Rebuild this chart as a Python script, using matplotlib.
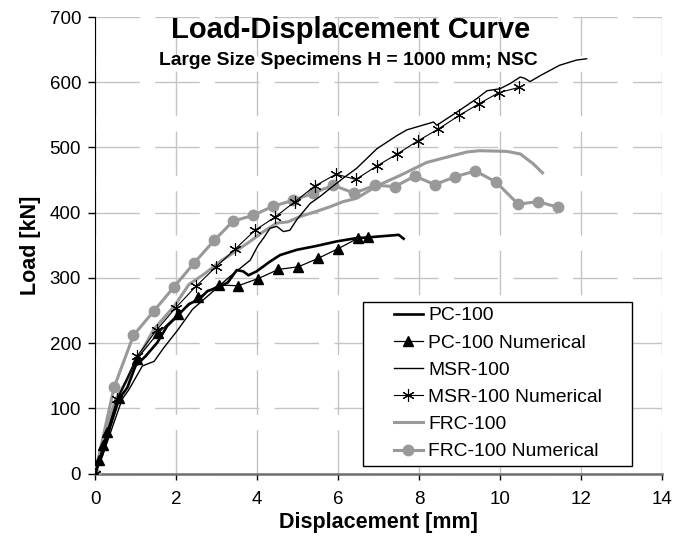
import matplotlib.pyplot as plt
from matplotlib.path import Path

plt.rcParams['font.family'] = ['Liberation Sans', 'DejaVu Sans']

# experimental curves
pc_x = [0, 0.17, 0.38, 0.59, 0.8, 1.0, 1.25, 1.54, 1.78, 2.07, 2.32, 2.57, 2.78, 3.03, 3.28,
        3.5, 3.66, 3.79, 3.99, 4.32, 4.57, 4.98, 5.47, 5.97, 6.46, 6.72, 7.5, 7.62]
pc_y = [0, 27, 73, 114, 132, 165, 180, 201, 226, 244, 260, 267, 280, 285, 293,
        312, 310, 304, 310, 325, 335, 343, 349, 356, 361, 362, 366, 360]

msr_x = [0, 0.2, 0.45, 0.67, 0.84, 1.17, 1.46, 1.70, 2.03, 2.41, 2.78, 3.11, 3.33, 3.83, 4.03,
         4.16, 4.32, 4.49, 4.65, 4.81, 4.98, 5.31, 5.56, 5.8, 6.13, 6.46, 6.96, 7.45, 7.7,
         8.36, 8.44, 8.93, 9.43, 9.68, 10.0, 10.25, 10.5, 10.61, 10.74, 10.99, 11.47, 11.89, 12.14]
msr_y = [0, 30, 75, 114, 129, 165, 172, 193, 219, 252, 272, 290, 302, 327, 350,
         361, 376, 379, 371, 373, 389, 414, 425, 437, 453, 468, 498, 518, 527,
         539, 534, 554, 575, 587, 590, 598, 608, 606, 601, 610, 626, 634, 636]

frc_x = [0, 0.3, 0.51, 0.8, 1.09, 1.45, 1.96, 2.32, 2.7, 3.11, 3.33, 3.83, 4.16, 4.49, 4.77,
         5.06, 5.47, 5.8, 6.13, 6.46, 6.96, 7.53, 8.19, 8.68, 9.18, 9.5, 10.17, 10.5, 10.82, 11.05]
frc_y = [0, 73, 114, 144, 180, 221, 257, 290, 306, 326, 335, 356, 371, 384, 386,
         394, 402, 409, 417, 422, 441, 457, 477, 485, 493, 495, 494, 490, 475, 461]

# numerical curves
pcn_x = [0, 0.11, 0.19, 0.29, 0.58, 1.04, 1.55, 2.05, 2.55, 3.05, 3.54, 4.03, 4.53, 5.02,
         5.51, 6.01, 6.5, 6.73]
pcn_y = [0, 21, 43, 63, 116, 176, 215, 244, 270, 289, 288, 299, 313, 317,
         330, 345, 361, 362]

msrn_x = [0, 0.54, 1.04, 1.52, 1.99, 2.49, 2.99, 3.46, 3.95, 4.44, 4.94, 5.43, 5.95, 6.44,
          6.97, 7.46, 7.97, 8.47, 8.99, 9.48, 9.97, 10.46]
msrn_y = [0, 114, 180, 220, 254, 287, 317, 344, 373, 393, 417, 441, 459, 451,
          472, 490, 510, 528, 549, 567, 584, 592]

frcn_x = [0, 0.47, 0.95, 1.45, 1.95, 2.45, 2.95, 3.41, 3.91, 4.4, 4.9, 5.39, 5.88, 6.4,
          6.92, 7.4, 7.9, 8.39, 8.89, 9.39, 9.9, 10.45, 10.94, 11.44]
frcn_y = [0, 132, 212, 249, 286, 323, 358, 387, 396, 410, 419, 430, 442, 430,
          442, 440, 456, 443, 455, 464, 447, 413, 417, 408]

gray = '#999999'

fig = plt.figure(figsize=(6.87, 5.37), dpi=100)
ax = fig.add_axes([0.1383, 0.1182, 0.8253, 0.8501])

ax.plot(pc_x, pc_y, color='black', lw=1.9, label='PC-100', zorder=5)
ax.plot(pcn_x, pcn_y, color='black', lw=0.9, marker='^', ms=6.5, label='PC-100 Numerical', zorder=6)
ax.plot(msr_x, msr_y, color='black', lw=1.0, label='MSR-100', zorder=5)
ax.plot(msrn_x, msrn_y, color='black', lw=0.8, marker=(6, 2, 0), ms=9, mew=0.8,
        label='MSR-100 Numerical', zorder=6)
ax.plot(frc_x, frc_y, color=gray, lw=2.2, label='FRC-100', zorder=4)
ax.plot(frcn_x, frcn_y, color=gray, lw=2.2, marker='o', ms=7.5, label='FRC-100 Numerical', zorder=4)

ax.set_xlim(0, 14)
ax.set_ylim(0, 700)
ax.set_xticks(range(0, 15, 2))
ax.set_yticks(range(0, 701, 100))
ax.tick_params(labelsize=13.5, width=1, direction='out')
ax.tick_params(axis='x', length=4.5, pad=8)
ax.tick_params(axis='y', length=5, pad=5)
ax.grid(True, color='#c4c4c4', lw=1, linestyle=(0, (32, 11)))
ax.set_axisbelow(True)
for s in ['top', 'right']:
    ax.spines[s].set_visible(False)
ax.spines['left'].set_color('black')
ax.spines['bottom'].set_color('#6e6e6e')
ax.spines['bottom'].set_linewidth(1.8)

ax.set_xlabel('Displacement [mm]', fontsize=15.5, fontweight='bold', labelpad=3)
ax.set_ylabel('Load [kN]', fontsize=15.5, fontweight='bold', labelpad=6)

fig.text(351 / 687, 1 - 38.5 / 537, 'Load-Displacement Curve', fontsize=21, fontweight='bold',
         ha='center', va='baseline')
fig.text(348 / 687, 1 - 65 / 537, 'Large Size Specimens H = 1000 mm; NSC', fontsize=13.9,
         fontweight='bold', ha='center', va='baseline')

leg = ax.legend(loc='upper left', bbox_to_anchor=(0.5173, 0.3763), fontsize=13.9, frameon=True,
                fancybox=False, edgecolor='black', framealpha=1, handlelength=1.52,
                labelspacing=0.5, borderpad=0.27, handletextpad=0.26, borderaxespad=0)
leg.get_frame().set_linewidth(1.0)


def wide_frame(x0, y0, width, height, mutation_size):
    # legend frame with extra room left and right of the entries
    dx = 1.32 * mutation_size
    return Path([(x0 - dx, y0), (x0 + width + dx, y0), (x0 + width + dx, y0 + height),
                 (x0 - dx, y0 + height), (x0 - dx, y0)], closed=True)


leg.get_frame().set_boxstyle(wide_frame)

fig.savefig('out.png', dpi=100)
